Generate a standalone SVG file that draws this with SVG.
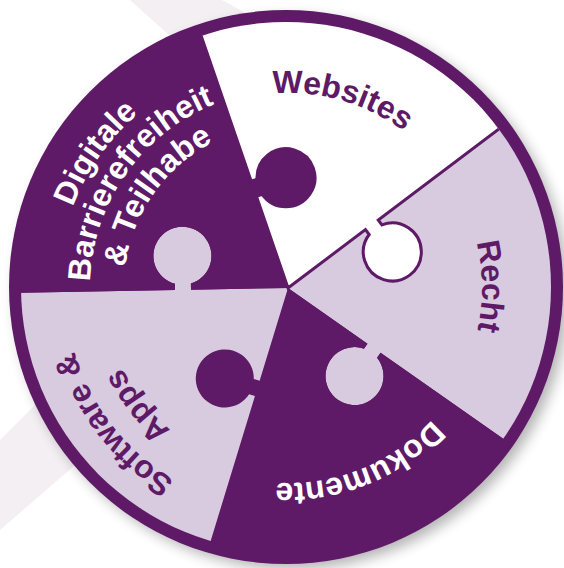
<svg xmlns="http://www.w3.org/2000/svg" width="564" height="568" viewBox="0 0 564 568">
<defs>
<style>
.lbl{font-family:"Liberation Sans",Arial,Helvetica,sans-serif;font-weight:bold;font-size:32px}
.dkt{fill:#5e1a66}
.wt{fill:#ffffff}
.dark{fill:#5e1a66}
.light{fill:#d8cadf}
.white{fill:#ffffff;stroke:#5e1a66;stroke-width:3}
.stripe{fill:#f3eff2}
</style>
<filter id="sh" x="-20%" y="-20%" width="140%" height="140%"><feGaussianBlur stdDeviation="7"/></filter>
<clipPath id="inner"><circle cx="286" cy="287" r="265"/></clipPath>
<path id="piece" d="M0,0 L97,0 L97,6.125 A29,29 0 1 0 113,6.125 L113,0 L300,0 A300,300 0 0 1 92.705,285.317 L34.919,107.470 L29.094,109.363 A29,29 0 1 1 24.150,94.146 L29.975,92.253 Z"/>
<path id="r195" d="M93.74,271.00 A195,195 0 0 1 482.26,271.00"/>
<path id="r194" d="M94.74,271.09 A194,194 0 0 1 481.26,271.09"/>
<path id="r230" d="M58.88,267.95 A230,230 0 0 1 517.12,267.95"/>
<path id="r198" d="M90.75,270.74 A198,198 0 0 1 485.25,270.74"/>
<path id="r164" d="M124.62,273.71 A164,164 0 0 1 451.38,273.71"/>
<path id="r223" d="M65.85,268.56 A223,223 0 0 1 510.15,268.56"/>
<path id="r184" d="M104.70,271.96 A184,184 0 0 1 471.30,271.96"/>
</defs>
<rect width="564" height="568" fill="#ffffff"/>
<polygon class="stripe" points="130,0 222,0 262,22 180,45"/>
<polygon class="stripe" points="0,440 90,350 150,400 0,530"/>
<circle cx="292" cy="293" r="276" fill="#000" opacity="0.3" filter="url(#sh)"/>
<circle cx="286" cy="287" r="277" fill="#5e1a66"/>
<g clip-path="url(#inner)">
  <g id="piece-recht"><use href="#piece" class="light" transform="translate(288,288) rotate(-37)"/></g>
  <g id="piece-dokumente"><use href="#piece" class="dark" transform="translate(288,288) rotate(35)"/></g>
  <g id="piece-software"><use href="#piece" class="light" transform="translate(288,288) rotate(107)"/></g>
  <g id="piece-digitale"><use href="#piece" class="dark" transform="translate(288,288) rotate(179)"/></g>
  <g id="piece-websites"><use href="#piece" class="white" transform="translate(288,288) rotate(-109)"/></g>
</g>
<g id="labels">
  <g transform="rotate(16 288 288)"><text class="lbl dkt"><textPath href="#r195" startOffset="50%" text-anchor="middle">Websites</textPath></text></g>
  <g transform="rotate(89.5 288 288)"><text class="lbl dkt"><textPath href="#r194" startOffset="50%" text-anchor="middle">Recht</textPath></text></g>
  <g transform="rotate(158 288 288)"><text class="lbl wt"><textPath href="#r195" startOffset="50%" text-anchor="middle">Dokumente</textPath></text></g>
  <g transform="rotate(232 288 288)"><text class="lbl dkt"><textPath href="#r223" startOffset="50%" text-anchor="middle">Software &amp;</textPath></text><text class="lbl dkt"><textPath href="#r184" startOffset="50%" text-anchor="middle">Apps</textPath></text></g>
  <g transform="rotate(-55 288 288)"><text class="lbl wt"><textPath href="#r230" startOffset="50%" text-anchor="middle">Digitale</textPath></text><text class="lbl wt"><textPath href="#r198" startOffset="50%" text-anchor="middle">Barrierefreiheit</textPath></text><text class="lbl wt"><textPath href="#r164" startOffset="50%" text-anchor="middle">&amp; Teilhabe</textPath></text></g>
</g>
</svg>
